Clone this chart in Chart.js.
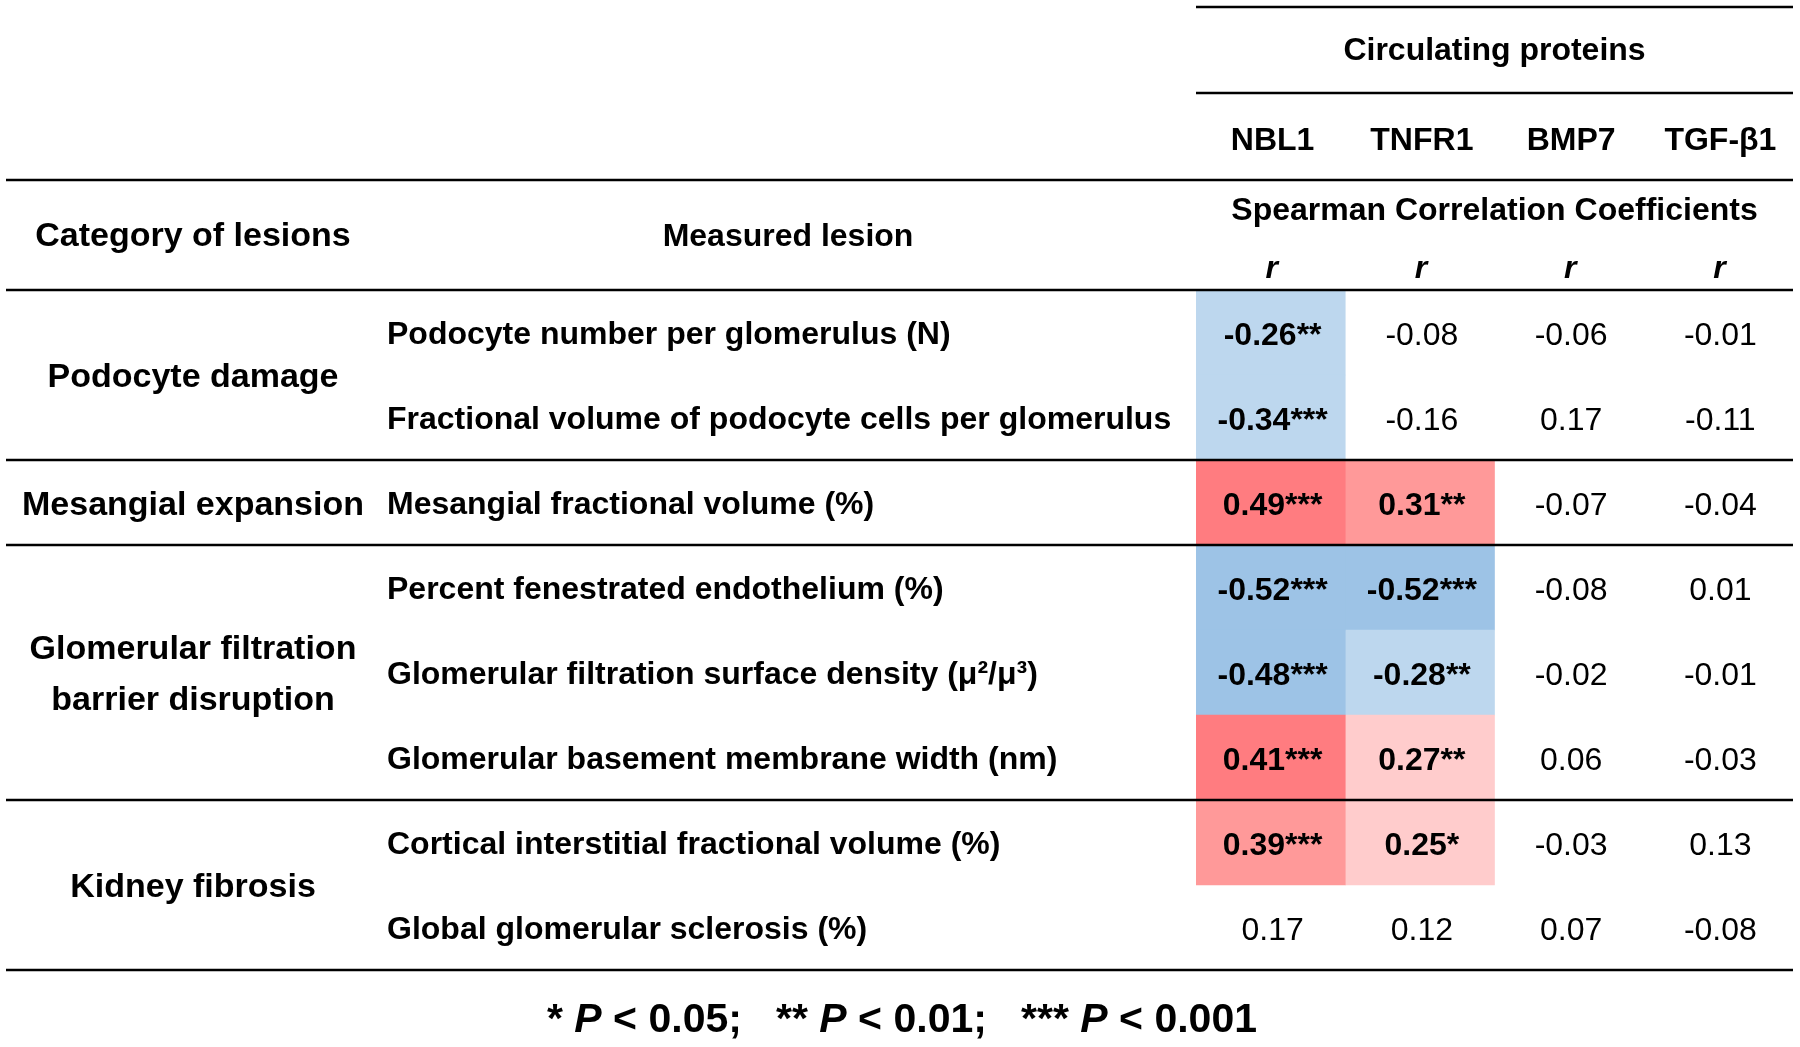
<!DOCTYPE html>
<html>
<head>
<meta charset="utf-8">
<script src="https://cdn.jsdelivr.net/npm/chart.js@4.4.1/dist/chart.umd.min.js"></script>
<style>
  body { margin: 0; background: #fff; }
  #wrap { width: 1800px; height: 1047px; }
</style>
</head>
<body>
<div id="wrap"><canvas id="corr-table" width="1800" height="1047"></canvas></div>
<script>
// table content
const proteins = ['NBL1', 'TNFR1', 'BMP7', 'TGF-β1'];
const categories = ['Podocyte damage', 'Mesangial expansion', 'Glomerular filtration\nbarrier disruption', 'Kidney fibrosis'];
const categoryRows = [2, 1, 3, 2];
const lesions = [
    'Podocyte number per glomerulus (N)',
    'Fractional volume of podocyte cells per glomerulus',
    'Mesangial fractional volume (%)',
    'Percent fenestrated endothelium (%)',
    'Glomerular filtration surface density (μ²/μ³)',
    'Glomerular basement membrane width (nm)',
    'Cortical interstitial fractional volume (%)',
    'Global glomerular sclerosis (%)'
];

// Spearman r per protein, with significance stars
const nbl1 = [-0.26, -0.34, 0.49, -0.52, -0.48, 0.41, 0.39, 0.17];
const nbl1Sig = ['**', '***', '***', '***', '***', '***', '***', ''];
const tnfr1 = [-0.08, -0.16, 0.31, -0.52, -0.28, 0.27, 0.25, 0.12];
const tnfr1Sig = ['', '', '**', '***', '**', '**', '*', ''];
const bmp7 = [-0.06, 0.17, -0.07, -0.08, -0.02, 0.06, -0.03, 0.07];
const bmp7Sig = ['', '', '', '', '', '', '', ''];
const tgfb1 = [-0.01, -0.11, -0.04, 0.01, -0.01, -0.03, 0.13, -0.08];
const tgfb1Sig = ['', '', '', '', '', '', '', ''];

const values = [nbl1, tnfr1, bmp7, tgfb1];
const stars = [nbl1Sig, tnfr1Sig, bmp7Sig, tgfb1Sig];

const FONT = '"Liberation Sans", Arial, sans-serif';

function cellColor(v, sig) {
    if (!sig) return 'rgba(255,255,255,0)';
    if (v < 0) return Math.abs(v) >= 0.4 ? '#9DC3E6' : '#BDD7EE';
    if (v >= 0.4) return '#FF7C80';
    if (v >= 0.3) return '#FF9999';
    return '#FFCCCC';
}

function hline(ctx, x1, x2, y) {
    ctx.beginPath();
    ctx.moveTo(x1, y);
    ctx.lineTo(x2, y);
    ctx.stroke();
}

const tablePlugin = {
    id: 'tableText',
    afterDatasetsDraw(chart) {
        const { ctx, chartArea, scales: { x, y } } = chart;
        const left = 6, right = chartArea.right;
        ctx.save();
        ctx.fillStyle = '#000';
        ctx.textBaseline = 'middle';

        // header block
        ctx.textAlign = 'center';
        ctx.font = 'bold 32px ' + FONT;
        ctx.fillText('Circulating proteins', (chartArea.left + right) / 2, 51);
        proteins.forEach((p, c) => ctx.fillText(p, x.getPixelForValue(c + 0.5) + 2, 141));
        ctx.fillText('Spearman Correlation Coefficients', (chartArea.left + right) / 2, 211);
        ctx.font = 'bold italic 32px ' + FONT;
        proteins.forEach((p, c) => ctx.fillText('r', x.getPixelForValue(c + 0.5) + 1, 269));
        ctx.font = 'bold 34px ' + FONT;
        ctx.fillText('Category of lesions', 193, 237);
        ctx.font = 'bold 32px ' + FONT;
        ctx.fillText('Measured lesion', 788, 237);

        // lesion names
        ctx.textAlign = 'left';
        lesions.forEach((l, r) => ctx.fillText(l, 387, y.getPixelForValue(r) + 3));

        // category names, centred on their group of rows
        ctx.textAlign = 'center';
        ctx.font = 'bold 34px ' + FONT;
        let start = 0;
        categories.forEach((cat, i) => {
            const mid = (y.getPixelForValue(start - 0.5) + y.getPixelForValue(start + categoryRows[i] - 0.5)) / 2;
            const lines = cat.split('\n');
            lines.forEach((t, k) => ctx.fillText(t, 193, mid + (k - (lines.length - 1) / 2) * 51 + 3));
            start += categoryRows[i];
        });

        // r values
        values.forEach((vals, c) => {
            const cx = x.getPixelForValue(c + 0.5) + 2;
            vals.forEach((v, r) => {
                const sig = stars[c][r];
                ctx.font = (sig ? 'bold ' : '') + '32px ' + FONT;
                ctx.fillText(v.toFixed(2) + sig, cx, y.getPixelForValue(r) + 4);
            });
        });

        // rules
        ctx.strokeStyle = '#000';
        ctx.lineWidth = 2.5;
        hline(ctx, chartArea.left, right, 7);
        hline(ctx, chartArea.left, right, 93);
        hline(ctx, left, right, 180);
        let row = 0;
        hline(ctx, left, right, y.getPixelForValue(-0.5));
        categoryRows.forEach(n => {
            row += n;
            hline(ctx, left, right, y.getPixelForValue(row - 0.5));
        });

        // footnote
        const parts = [
            ['* ', false], ['P', true], [' < 0.05;   ** ', false], ['P', true],
            [' < 0.01;   *** ', false], ['P', true], [' < 0.001', false]
        ];
        const fontFor = it => (it ? 'bold italic ' : 'bold ') + '41px ' + FONT;
        let total = 0;
        parts.forEach(([t, it]) => { ctx.font = fontFor(it); total += ctx.measureText(t).width; });
        let fx = 902 - total / 2;
        ctx.textAlign = 'left';
        parts.forEach(([t, it]) => {
            ctx.font = fontFor(it);
            ctx.fillText(t, fx, 1021);
            fx += ctx.measureText(t).width;
        });
        ctx.restore();
    }
};

const ctx = document.getElementById('corr-table');
new Chart(ctx, {
    type: 'bar',
    data: {
        labels: lesions,
        datasets: values.map((vals, c) => ({
            label: proteins[c],
            data: vals.map(() => [c, c + 1]),
            backgroundColor: vals.map((v, r) => cellColor(v, stars[c][r])),
            borderWidth: 0,
            barPercentage: 1,
            categoryPercentage: 1,
            grouped: false
        }))
    },
    options: {
        indexAxis: 'y',
        responsive: false,
        animation: false,
        layout: { padding: { left: 1196, top: 290, right: 7, bottom: 77 } },
        plugins: { legend: { display: false }, tooltip: { enabled: false } },
        scales: {
            x: { type: 'linear', min: 0, max: 4, display: false },
            y: { type: 'category', display: false }
        }
    },
    plugins: [tablePlugin]
});
</script>
</body>
</html>
